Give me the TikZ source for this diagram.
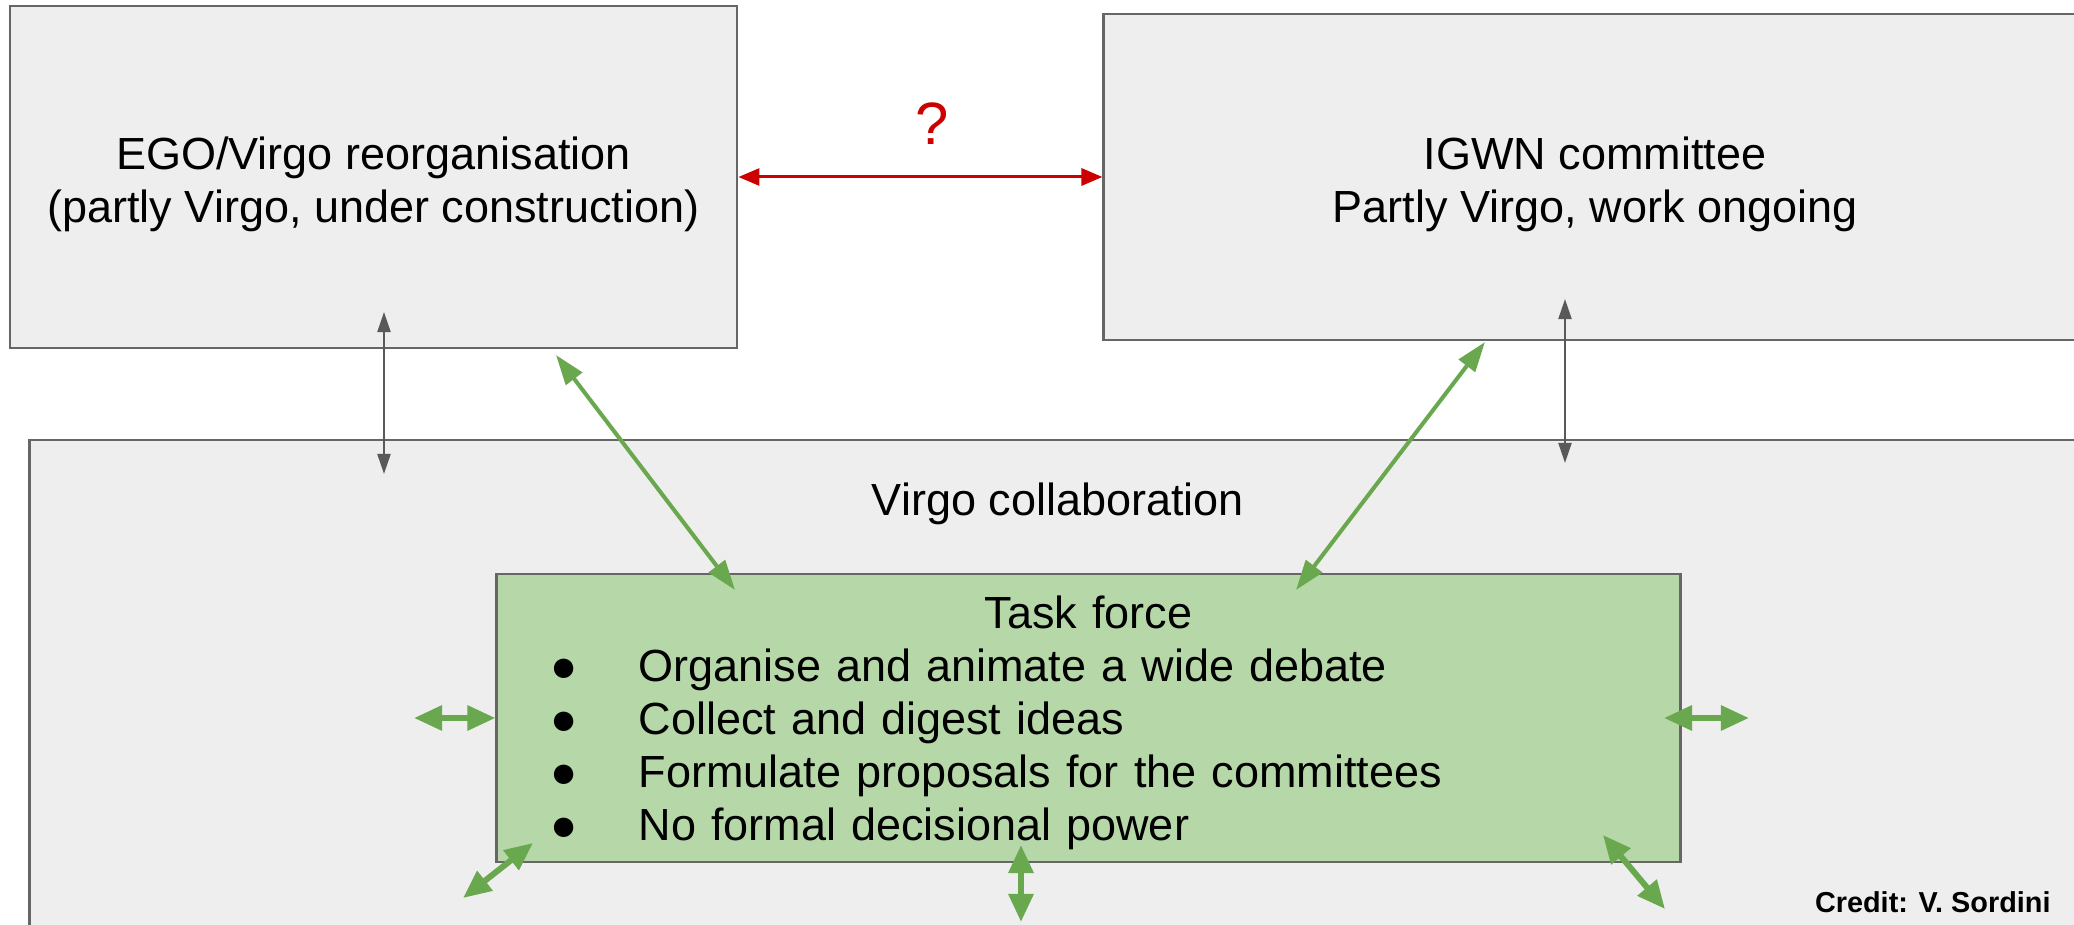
\documentclass[tikz,border=0pt]{standalone}
\usepackage{fontspec}
\setmainfont{Liberation Sans}
\usetikzlibrary{arrows.meta}

\definecolor{boxgray}{HTML}{EEEEEE}
\definecolor{linegray}{HTML}{666666}
\definecolor{arrowgray}{HTML}{595959}
\definecolor{tfgreen}{HTML}{B6D7A8}
\definecolor{linkgreen}{HTML}{6AA84F}
\definecolor{askred}{HTML}{CC0000}

\begin{document}
\begin{tikzpicture}[
          x=0.01cm, y=-0.01cm,
          box/.style={draw=linegray, line width=0.7pt, fill=boxgray, align=center, inner sep=0pt, font=\fontsize{12.8}{15.1}\selectfont},
          label/.style={font=\fontsize{12.8}{15.1}\selectfont},
          graylink/.style={<->, line width=0.6pt, draw=arrowgray, >={Stealth[inset=0pt, length=0.2cm, width=0.13cm]}},
          redlink/.style={<->, line width=0.85pt, draw=askred, >={Stealth[inset=0pt, length=0.21cm, width=0.17cm]}},
          biglink/.style={<->, line width=1.15pt, draw=linkgreen, >={Stealth[inset=0pt, length=0.3cm, width=0.2cm]}},
          stublink/.style={<->, line width=1.7pt, draw=linkgreen, >={Stealth[inset=0pt, length=0.28cm, width=0.24cm]}}
        ]
          \clip (0,0) rectangle (2074,925);
          \fill[white] (0,0) rectangle (2074,925);

          % Committees
          \node[box, minimum width=7.27cm, minimum height=3.42cm] (ego) at (373.5,177) {\rule{0pt}{13.3pt}EGO/Virgo reorganisation\\(partly Virgo, under construction)};
          \node[box, minimum width=9.82cm, minimum height=3.26cm] (igwn) at (1595,177) {\rule{0pt}{13.3pt}IGWN committee\\Partly Virgo, work ongoing};
          \draw[redlink] (ego) -- (igwn);
          \node[text=askred, font=\fontsize{17}{20}\selectfont] (ask) at (932,124) {?};

          % Collaboration
          \node[box, minimum width=20.56cm, minimum height=5.4cm] (virgo) at (1058,710) {};
          \node[label] (virgolbl) at (1058,504) {Virgo collaboration};

          % Task force
          \node[box, fill=tfgreen, minimum width=11.83cm, minimum height=2.88cm, text width=10.75cm, inner xsep=0.54cm, align=left] (task) at (1088.5,718) {%
            {\centering\rule{0pt}{12.2pt}Task force\par}
            \makebox[0.88cm][l]{●}Organise and animate a wide debate\par
            \makebox[0.88cm][l]{●}Collect and digest ideas\par
            \makebox[0.88cm][l]{●}Formulate proposals for the committees\par
            \makebox[0.88cm][l]{●}No formal decisional power};

          % Link ends
          \coordinate (egoin) at (384,312);
          \coordinate (virgoinl) at (384,474);
          \coordinate (igwnin) at (1565,299);
          \coordinate (virgoinr) at (1565,463);
          \coordinate (egofoot) at (556,355);
          \coordinate (tasktopl) at (735,590);
          \coordinate (igwnfoot) at (1485,342);
          \coordinate (tasktopr) at (1296,590);

          % Connections
          \draw[graylink] (egoin) -- (virgoinl);
          \draw[graylink] (igwnin) -- (virgoinr);
          \draw[biglink] (egofoot) -- (tasktopl);
          \draw[biglink] (igwnfoot) -- (tasktopr);

          % Outreach stubs
          \coordinate (stubw) at (414,718);
          \coordinate (stubein) at (1664,718);
          \coordinate (stube) at (1749,718);
          \coordinate (stubswin) at (533,843);
          \coordinate (stubsw) at (463,898);
          \coordinate (stubsin) at (1021,845);
          \coordinate (stubs) at (1021,922);
          \coordinate (stubsein) at (1603,835);
          \coordinate (stubse) at (1665,909);
          \draw[stublink] (task.west) -- (stubw);
          \draw[stublink] (stubein) -- (stube);
          \draw[stublink] (stubswin) -- (stubsw);
          \draw[stublink] (stubsin) -- (stubs);
          \draw[stublink] (stubsein) -- (stubse);

          \node[anchor=base east, font=\bfseries\fontsize{8.2}{10}\selectfont] (credit) at (2063,913) {Credit: V. Sordini};
        \end{tikzpicture}
\end{document}
